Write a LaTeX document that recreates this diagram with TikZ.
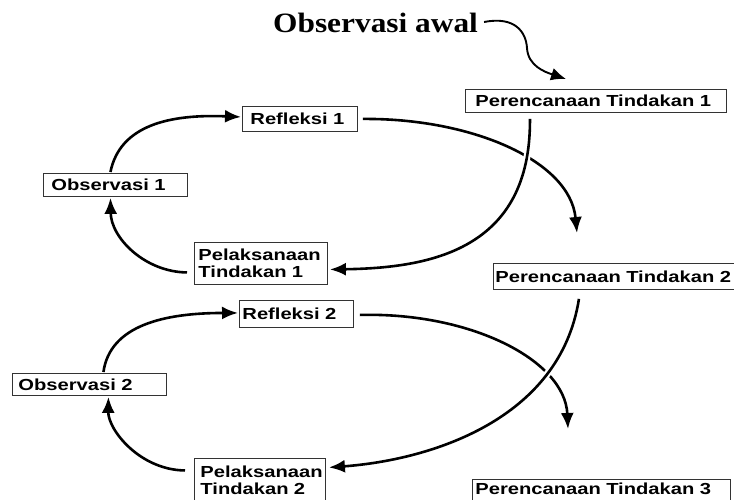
\documentclass[tikz,border=0pt]{standalone}
\usepackage{fontspec}
\usetikzlibrary{arrows.meta,calc}
\newfontfamily\boxfont[FakeStretch=1.26]{Liberation Sans}
\newfontfamily\titlefont[FakeStretch=1.12]{Liberation Serif}

\begin{document}
\begin{tikzpicture}[x=1pt, y=-1pt,
    box/.style={draw=black!80, line width=0.9pt, anchor=north west, align=left,
                inner ysep=2pt, font=\boxfont\bfseries\fontsize{16}{17.5}\selectfont},
    loop/.style={line width=2.6pt, -{Latex[length=16pt,width=13pt]}},
    over/.style={preaction={draw=white, line width=7pt, -}}]

    % 0. Bingkai gambar
    \clip (0,0) rectangle (734,500);

    % 1. Judul dan panah awal
    \node[anchor=base west, inner sep=0pt, font=\titlefont\bfseries\fontsize{28}{30}\selectfont]
        (awal) at (273,33) {Observasi awal};

    % 2. Kotak siklus 1
    \node[box, inner xsep=10pt, text width=241, minimum height=23] (p1) at (465,89) {Perencanaan Tindakan 1};
    \node[box, inner xsep=8pt, text width=99, minimum height=25] (r1) at (242,106) {Refleksi 1};
    \node[box, inner xsep=8pt, text width=128, minimum height=23] (o1) at (43,173) {Observasi 1};
    \node[box, inner xsep=4pt, text width=125, minimum height=42] (t1) at (194,242) {Pelaksanaan\\Tindakan 1};

    % 3. Kotak siklus 2
    \node[box, inner xsep=2pt, text width=251, minimum height=26] (p2) at (493,263) {Perencanaan Tindakan 2};
    \node[box, inner xsep=3pt, text width=108, minimum height=27] (r2) at (239,300) {Refleksi 2};
    \node[box, inner xsep=6pt, text width=142, minimum height=22] (o2) at (12,373) {Observasi 2};
    \node[box, inner xsep=6pt, text width=119, minimum height=44] (t2) at (194,458) {Pelaksanaan\\Tindakan 2};
    \node[box, inner xsep=3pt, text width=252, text height=13, text depth=14] (p3) at (472,479) {Perencanaan Tindakan 3};

    % 4. Titik ujung panah yang bebas
    \coordinate (ke2) at (577,233);
    \coordinate (ke3) at (568,429);

    % 5. Panah siklus 1
    \draw[line width=1.9pt, -{Latex[length=15pt,width=13pt]}]
        ($(awal.base east)+(6,-11)$) .. controls (515,16) and (526,32) .. (527,48)
        .. controls (528,66) and (545,72) .. (566,79);
    \draw[loop] ($(o1.north)+(-5,-1)$) .. controls (120,125) and (170,114) .. ($(r1.west)+(-1,-2)$);
    \draw[loop] ($(t1.west)+(-7,9)$) .. controls (145,272) and (111,238) .. ($(o1.south)+(-5,1)$);
    \draw[loop] ($(r1.east)+(5,0)$) .. controls (470,118) and (570,160) .. (ke2);
    \draw[loop, over] ($(p1.south)+(-66,6)$) .. controls (531,250) and (430,268) .. ($(t1.east)+(2,6)$);

    % 6. Panah siklus 2
    \draw[loop] ($(o2.north)+(14,-1)$) .. controls (110,325) and (165,313) .. ($(r2.west)+(-1,-1)$);
    \draw[loop] ($(t2.west)+(-9,-10)$) .. controls (140,470) and (108,430) .. ($(o2.south)+(19,1)$);
    \draw[loop] ($(r2.east)+(6,1)$) .. controls (470,312) and (565,360) .. (ke3);
    \draw[loop, over] ($(p2.south)+(-42,9)$) .. controls (560,420) and (430,460) .. ($(t2.east)+(3,-13)$);
\end{tikzpicture}
\end{document}
